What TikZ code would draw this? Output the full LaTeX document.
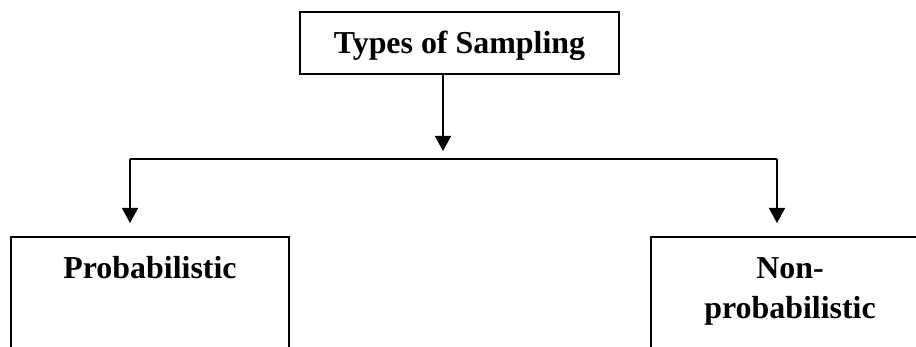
\documentclass[tikz,border=0pt]{standalone}
\usepackage{fontspec}
\setmainfont{Liberation Serif}
\usetikzlibrary{arrows.meta}

\begin{document}
\begin{tikzpicture}[x=0.025cm, y=-0.025cm, line width=1.1pt,
        box/.style={draw, rectangle, font=\bfseries\fontsize{22.7}{28.5}\selectfont, align=center},
        arr/.style={-{Triangle[length=0.375cm, width=0.4cm]}}]
        \useasboundingbox (0,0) rectangle (916,347);
        \clip (0,0) rectangle (916,347);

        % Draw nodes
        \node[box, minimum width=7.975cm, minimum height=1.55cm, text height=15pt, text depth=0pt] (types) at (459.5,43) {Types of Sampling};
        \node[box, anchor=north, minimum width=6.95cm, inner ysep=14.9pt, text height=15pt, text depth=4cm] (prob) at (150,236) {Probabilistic};
        \node[box, anchor=north, minimum width=6.95cm, inner ysep=14.9pt, text height=43.5pt, text depth=4cm] (nonprob) at (790,236) {Non-\\probabilistic};

        % Draw connections
        \coordinate (split) at (443,159);
        \coordinate (lsplit) at (130,159);
        \coordinate (rsplit) at (777,159);
        \draw[arr] (types.south -| split) -- ([yshift=0.2cm]split);
        \draw[-] (lsplit) -- (rsplit);
        \draw[arr] (lsplit) -- ([yshift=0.325cm]prob.north -| lsplit);
        \draw[arr] (rsplit) -- ([yshift=0.325cm]nonprob.north -| rsplit);
\end{tikzpicture}
\end{document}
